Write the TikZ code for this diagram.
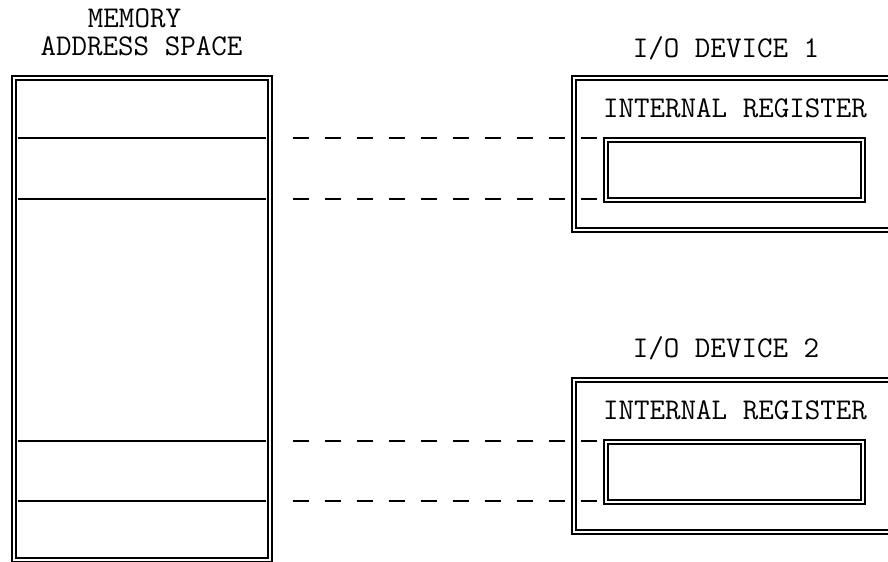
\documentclass[tikz,border=0pt]{standalone}
\usepackage{fontspec}
\usetikzlibrary{positioning,calc}

\begin{document}
\begin{tikzpicture}[
  x=0.75pt, y=-0.75pt,
  every node/.style={font=\ttfamily\fontsize{22.6pt}{26pt}\selectfont},
  frame/.style={draw, double, line width=1.5pt, double distance=1.5pt,
                inner sep=0pt, outer sep=0pt},
  lbl/.style={anchor=base, inner sep=0pt},
  divider/.style={line width=1.5pt, shorten <=2.6pt, shorten >=2.6pt},
  link/.style={line width=1.5pt, dash pattern=on 12pt off 12pt}
]
\useasboundingbox (0,0) rectangle (888,561);

% Memory address space
\node[lbl] (memtop) at (134.5,27) {MEMORY};
\node[lbl] (memname) at (141.5,55) {ADDRESS SPACE};
\node[frame, minimum width=191.6pt, minimum height=361.5pt] (mem) at (142,319) {};

\foreach \y/\n in {138/a, 199/b, 441/c, 501/d} {
  \coordinate (cut\n) at (0,\y);
  \draw[divider] (mem.west |- cut\n) -- (mem.east |- cut\n);
}

% I/O devices
\node[lbl] (dev1name) at (726,57) {I/O DEVICE 1};
\node[frame, minimum width=252pt, minimum height=114pt] (dev1) at (742,154) {};
\node[lbl] (reg1name) at (735,117) {INTERNAL REGISTER};
\node[frame, minimum width=192.75pt, minimum height=45pt] (reg1) at (734,169.5) {};

\node[lbl] (dev2name) at (726,357) {I/O DEVICE 2};
\node[frame, minimum width=252pt, minimum height=114pt] (dev2) at (742,456) {};
\node[lbl] (reg2name) at (735,419) {INTERNAL REGISTER};
\node[frame, minimum width=192.75pt, minimum height=45pt] (reg2) at (734,471.5) {};

% Mapping
\draw[link] ($(mem.east |- cuta)+(23,0)$) -- (reg1.west |- cuta);
\draw[link] ($(mem.east |- cutb)+(23,0)$) -- (reg1.west |- cutb);
\draw[link] ($(mem.east |- cutc)+(23,0)$) -- (reg2.west |- cutc);
\draw[link] ($(mem.east |- cutd)+(23,0)$) -- (reg2.west |- cutd);

\end{tikzpicture}
\end{document}
